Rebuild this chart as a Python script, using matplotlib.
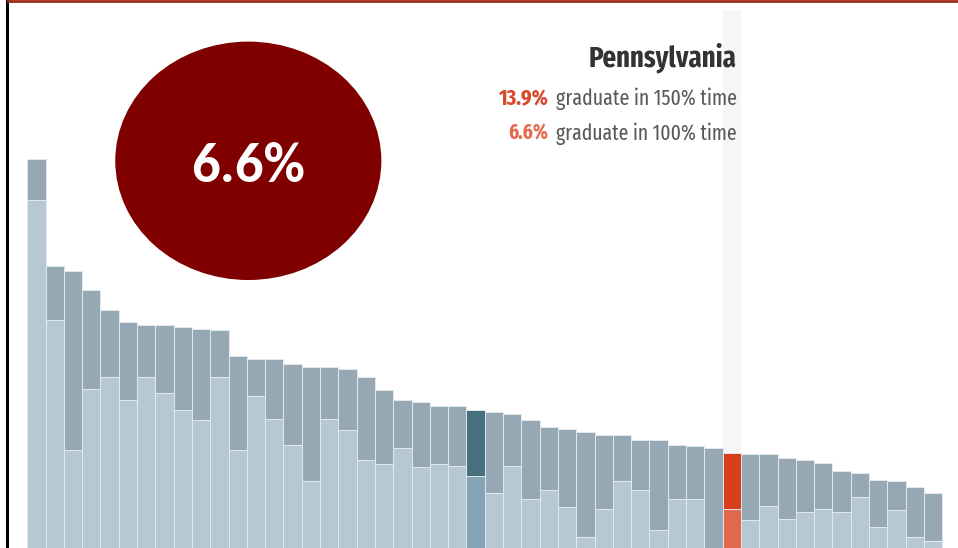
import os
import matplotlib.pyplot as plt
import numpy as np
from matplotlib import font_manager
from matplotlib.font_manager import FontProperties
from matplotlib.patches import Ellipse
from matplotlib.lines import Line2D

# graduation rates per state, sorted by 150% rate
grad_150 = [52.4, 38.4, 37.8, 35.2, 32.6, 31.1, 30.7, 30.7, 30.4, 30.2,
            30.0, 26.6, 26.2, 26.2, 25.5, 25.1, 25.1, 24.9, 23.8, 22.1,
            20.8, 20.6, 20.1, 20.1, 19.5, 19.3, 19.0, 18.2, 17.3, 17.1,
            16.7, 16.3, 16.3, 15.6, 15.6, 15.0, 14.8, 14.5, 13.9, 13.7,
            13.7, 13.2, 13.0, 12.6, 11.5, 11.3, 10.4, 10.2, 9.4, 8.7]
grad_100 = [47.1, 31.3, 14.3, 22.3, 23.8, 20.8, 23.9, 21.8, 19.5, 18.2,
            23.9, 14.3, 21.4, 18.4, 15.0, 10.2, 18.4, 16.9, 13.0, 12.4,
            14.5, 12.0, 12.4, 12.2, 10.9, 8.7, 12.2, 7.9, 9.0, 6.8,
            2.9, 6.6, 10.2, 9.0, 3.8, 7.9, 7.9, 1.0, 6.6, 5.1,
            7.0, 5.3, 6.2, 6.6, 6.2, 8.1, 4.2, 6.4, 2.9, 2.3]
national_idx = 24
state_idx = 38
state_name = "Pennsylvania"
state_150 = "13.9%"
state_100 = "6.6%"

W, H = 958, 548


def pick_font(files, family, weight):
    # prefer an exact font file, fall back to family lookup
    for f in font_manager.fontManager.ttflist:
        if os.path.basename(f.fname) in files:
            return FontProperties(fname=f.fname)
    return FontProperties(family=family, weight=weight)


bubble_fp = pick_font(["Carlito-Bold.ttf", "Lato-Bold.ttf"], ["Lato", "DejaVu Sans"], "bold")
title_fp = pick_font(["FiraSansExtraCondensed-Bold.ttf"],
                     ["Fira Sans Extra Condensed", "Liberation Sans"], "bold")
body_fp = pick_font(["FiraSansExtraCondensed-Regular.ttf"],
                    ["Fira Sans Extra Condensed", "Liberation Sans"], "normal")

fig = plt.figure(figsize=(W / 100, H / 100), dpi=100)
ax = fig.add_axes([0, 0, 1, 1])
ax.set_axis_off()

n = len(grad_150)
x = np.arange(n)

top_cols = ["#95a8b3"] * n
low_cols = ["#b6c8d2"] * n
top_cols[national_idx] = "#47707f"
low_cols[national_idx] = "#87a4b4"
top_cols[state_idx] = "#d53f1b"
low_cols[state_idx] = "#e0684b"

# highlight column behind selected state
ax.axvspan(state_idx - 0.5, state_idx + 0.5, ymin=0, ymax=1 - 10 / H,
           color="#f6f6f6", zorder=0, lw=0)

ax.bar(x, grad_150, width=1.0, color=top_cols, edgecolor="#e2e9ed", lw=0.7, zorder=2)
ax.bar(x, grad_100, width=1.0, color=low_cols, edgecolor="#e2e9ed", lw=0.7, zorder=3)

ax.set_xlim(-1.992, 50.36)
ax.set_ylim(1.44, 73.26)

# big callout bubble
fig.patches.append(Ellipse((248.3 / W, 1 - 160.8 / H), 264.7 / W, 237 / H,
                           transform=fig.transFigure, color="#800000", zorder=5))

renderer = fig.canvas.get_renderer()


def fit_text(xp, yp, s, width_px, fp, size, **kw):
    # put text at pixel pos, then rescale font so it spans width_px
    fp = fp.copy()
    fp.set_size(size)
    t = fig.text(xp / W, 1 - yp / H, s, va="baseline", fontproperties=fp, **kw)
    w = t.get_window_extent(renderer).width
    t.set_fontsize(size * width_px / w)
    return t


fit_text(247.8, 182, state_100, 114, bubble_fp, 39, color="white",
         ha="center", zorder=6)
fit_text(736.7, 66.5, state_name, 148, title_fp, 20, color="#333333", ha="right")
fit_text(548.3, 105, state_150, 50, title_fp, 17, color="#d84a2b", ha="right")
fit_text(555.5, 105, "graduate in 150% time", 181, body_fp, 17,
         color="#595959", ha="left")
fit_text(548.3, 140, state_100, 40, title_fp, 17, color="#e46a4e", ha="right")
fit_text(555.5, 140, "graduate in 100% time", 181, body_fp, 17,
         color="#595959", ha="left")

# frame lines
fig.lines.append(Line2D([6.5 / W, 6.5 / W], [0, 1], transform=fig.transFigure,
                        color="black", lw=2.2, zorder=10))
fig.lines.append(Line2D([8 / W, 1], [1 - 1.2 / H, 1 - 1.2 / H],
                        transform=fig.transFigure, color="#9f2a16", lw=2.0, zorder=10))

fig.savefig("out.png", dpi=100)
